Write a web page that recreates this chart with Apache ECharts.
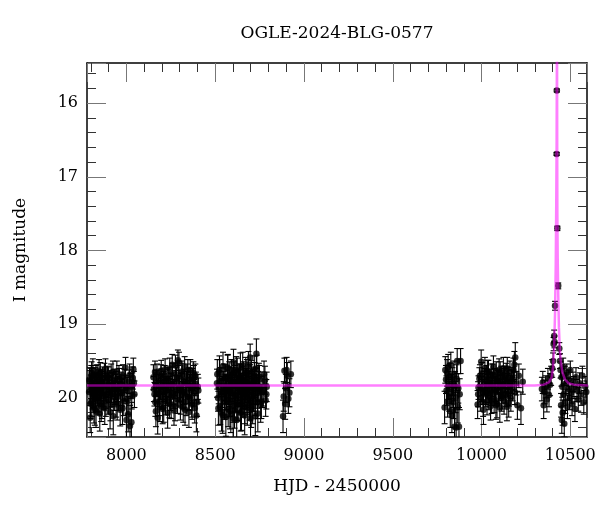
<!DOCTYPE html>
<html><head><meta charset="utf-8">
<script src="https://cdn.jsdelivr.net/npm/echarts@6/dist/echarts.min.js"></script>
<style>html,body{margin:0;padding:0;background:#fff}#c{width:600px;height:512px}</style>
</head><body><div id="c"></div>
<script>
// ---- Observations (HJD - 2450000, I mag, error) by season ----
const s1T = [7790,7793,7796,7799,7802,7805,7808,7811,7814,7817,7820,7823,7826,7829,7832,7835,7838,7841,7844,7847,7850,7853,7856,7859,7862,7866,7870,7874,7878,7882,7886,7890,7894,7898,7902,7906,7910,7914,7918,7922,7926,7930,7934,7938,7942,7946,7950,7955,7960,7965,7970,7975,7980,7985,7990,7995,8000,8005,8010,8015,8020,8025,8030,8036,8042];
const s1Mag = [19.92,19.78,20.27,19.85,19.70,20.05,19.88,19.62,19.95,20.12,19.81,19.74,19.99,20.18,19.86,19.69,19.93,20.03,19.77,19.84,20.21,19.66,19.90,19.80,20.08,19.73,19.97,19.87,20.14,19.61,19.83,19.95,19.72,20.02,19.89,19.79,20.10,19.68,19.94,19.82,20.25,19.76,19.91,19.85,20.06,19.64,19.88,19.98,19.75,20.16,19.81,19.93,19.70,20.04,19.86,19.59,20.30,19.90,20.22,19.78,20.38,19.84,19.96,19.73,19.80];
const s1Err = [0.18,0.15,0.20,0.16,0.14,0.20,0.17,0.15,0.18,0.22,0.16,0.15,0.19,0.22,0.17,0.14,0.18,0.20,0.15,0.16,0.24,0.14,0.18,0.16,0.20,0.15,0.19,0.17,0.22,0.14,0.16,0.19,0.15,0.20,0.17,0.16,0.21,0.14,0.18,0.16,0.25,0.15,0.18,0.17,0.20,0.14,0.17,0.19,0.15,0.22,0.16,0.18,0.15,0.20,0.17,0.14,0.26,0.18,0.24,0.16,0.28,0.17,0.19,0.15,0.16];
const s1bT = [7792,7798,7804,7810,7816,7822,7828,7834,7840,7846,7852,7858,7864,7868,7876,7884,7892,7900,7908,7916,7924,7932,7940,7948,7958,7968,7978,7988,7998,8008,8018,8028,8033,8039,8045];
const s1bMag = [19.75,20.08,19.66,19.96,19.84,20.15,19.71,19.90,20.00,19.63,19.86,20.11,19.78,19.94,19.68,20.05,19.82,19.73,20.19,19.88,19.65,19.98,19.80,20.09,19.71,19.92,20.14,19.77,19.87,20.02,19.69,20.33,19.83,19.61,19.95];
const s1bErr = [0.16,0.20,0.15,0.19,0.17,0.22,0.15,0.18,0.19,0.15,0.17,0.21,0.16,0.18,0.15,0.20,0.17,0.15,0.23,0.18,0.15,0.19,0.16,0.21,0.15,0.18,0.22,0.16,0.17,0.20,0.15,0.27,0.17,0.15,0.18];

const s2T = [8152,8158,8163,8168,8172,8176,8180,8184,8188,8192,8196,8200,8204,8208,8212,8216,8220,8224,8228,8232,8236,8240,8244,8248,8252,8256,8260,8264,8268,8272,8276,8280,8284,8288,8292,8296,8300,8304,8308,8312,8316,8320,8324,8328,8332,8336,8340,8344,8348,8352,8356,8360,8364,8368,8372,8377,8382,8388,8394,8402];
const s2Mag = [19.72,19.95,20.06,19.83,19.68,20.27,19.90,19.76,20.12,19.86,19.63,19.97,20.15,19.79,19.88,19.70,20.04,19.82,19.93,20.20,19.74,19.87,19.60,19.99,20.09,19.81,19.67,19.92,20.17,19.85,19.56,19.78,19.94,20.02,19.71,19.52,19.89,20.10,19.83,19.64,19.96,20.13,19.77,19.58,19.91,20.05,19.80,19.69,19.98,20.19,19.84,19.62,19.90,20.07,19.75,19.66,19.93,19.70,20.24,19.85];
const s2Err = [0.17,0.16,0.19,0.15,0.14,0.22,0.17,0.15,0.20,0.16,0.14,0.18,0.20,0.15,0.17,0.14,0.19,0.16,0.17,0.21,0.15,0.16,0.14,0.18,0.19,0.15,0.14,0.17,0.20,0.16,0.14,0.15,0.17,0.19,0.15,0.14,0.16,0.20,0.16,0.14,0.18,0.20,0.15,0.14,0.17,0.19,0.16,0.15,0.18,0.21,0.16,0.14,0.17,0.19,0.15,0.15,0.18,0.16,0.22,0.17];
const s2bT = [8155,8161,8166,8170,8178,8186,8194,8202,8210,8218,8226,8234,8242,8250,8258,8266,8274,8282,8290,8298,8306,8314,8322,8330,8338,8346,8354,8362,8370,8375,8380,8385,8391,8398,8405];
const s2bMag = [19.88,19.65,20.18,19.79,19.94,20.05,19.70,19.85,20.13,19.61,19.90,19.77,20.08,19.83,19.55,19.96,20.11,19.73,19.49,19.87,20.03,19.68,19.92,20.16,19.80,19.62,19.99,19.75,20.09,19.86,19.71,20.14,19.81,20.06,19.90];
const s2bErr = [0.17,0.15,0.21,0.16,0.18,0.19,0.15,0.17,0.20,0.14,0.17,0.16,0.19,0.16,0.14,0.18,0.20,0.15,0.14,0.17,0.19,0.15,0.17,0.21,0.16,0.14,0.18,0.15,0.20,0.17,0.15,0.20,0.16,0.19,0.17];

const s3T = [8512,8516,8520,8524,8528,8532,8536,8540,8544,8548,8552,8556,8560,8564,8567,8570,8573,8576,8579,8582,8585,8588,8591,8594,8597,8600,8603,8606,8609,8612,8615,8618,8621,8624,8627,8630,8633,8636,8639,8642,8645,8648,8651,8654,8657,8660,8663,8666,8669,8672,8675,8678,8681,8684,8687,8690,8693,8696,8699,8702,8705,8708,8711,8714,8717,8720,8724,8728,8732,8736,8740,8746,8752,8760,8770,8780,8788];
const s3Mag = [19.68,20.00,19.86,19.62,20.12,19.77,20.20,19.92,19.57,19.84,20.06,19.73,20.26,19.95,19.81,19.60,20.15,19.89,19.70,20.03,19.85,20.22,19.66,19.93,19.78,20.10,19.52,19.88,20.17,19.75,19.97,19.83,20.30,19.64,19.91,19.80,20.08,19.72,19.99,19.58,19.87,20.19,19.76,19.94,20.04,19.69,19.82,20.24,19.90,19.63,19.98,19.79,20.13,19.86,19.55,19.92,20.07,19.74,20.28,19.84,19.67,19.96,20.11,19.80,19.88,19.61,20.02,19.78,19.40,19.93,20.21,19.71,19.85,20.05,19.90,19.76,19.95];
const s3Err = [0.20,0.18,0.22,0.19,0.24,0.18,0.25,0.21,0.19,0.20,0.23,0.18,0.26,0.21,0.19,0.18,0.24,0.20,0.19,0.22,0.20,0.25,0.18,0.21,0.19,0.23,0.18,0.20,0.24,0.19,0.22,0.20,0.27,0.18,0.21,0.19,0.23,0.18,0.21,0.19,0.20,0.25,0.19,0.21,0.22,0.18,0.20,0.26,0.21,0.18,0.22,0.19,0.24,0.20,0.18,0.21,0.23,0.19,0.27,0.20,0.18,0.22,0.24,0.19,0.20,0.18,0.22,0.19,0.20,0.21,0.25,0.18,0.20,0.23,0.21,0.19,0.20];
const s3bT = [8510,8518,8526,8534,8542,8550,8558,8565,8571,8577,8583,8589,8595,8601,8607,8613,8619,8625,8631,8637,8643,8649,8655,8661,8667,8673,8679,8685,8691,8697,8703,8709,8715,8722,8726,8730,8734,8738,8743,8749,8756,8764,8775,8784,8790];
const s3bMag = [19.80,20.14,19.66,19.95,20.23,19.72,19.88,20.05,19.59,19.91,20.18,19.77,19.85,20.28,19.69,19.98,19.62,20.09,19.83,19.73,20.20,19.90,19.56,19.94,20.12,19.79,19.66,20.01,19.87,19.45,20.16,19.81,19.97,19.70,20.25,19.89,19.60,20.06,19.84,19.75,20.10,19.92,19.68,20.03,19.85];
const s3bErr = [0.19,0.23,0.18,0.21,0.25,0.18,0.20,0.22,0.18,0.21,0.24,0.19,0.20,0.27,0.18,0.21,0.18,0.22,0.20,0.19,0.25,0.21,0.18,0.21,0.23,0.19,0.18,0.22,0.20,0.18,0.24,0.20,0.21,0.18,0.26,0.20,0.18,0.22,0.20,0.19,0.23,0.21,0.18,0.22,0.20];

const s4T = [8882,8886,8890,8894,8898,8902,8906,8912,8918,8926];
const s4Mag = [20.25,19.98,19.63,20.08,19.87,19.62,19.70,20.01,19.93,19.68];
const s4Err = [0.22,0.20,0.17,0.21,0.19,0.17,0.18,0.20,0.19,0.18];

const s5T = [9792,9796,9800,9803,9806,9809,9812,9815,9818,9821,9824,9827,9830,9833,9836,9839,9842,9845,9848,9851,9854,9857,9860,9863,9866,9869,9873,9877,9882];
const s5Mag = [20.13,19.62,19.75,19.90,19.66,20.05,19.58,19.83,19.98,19.71,20.18,19.55,19.88,20.24,19.78,19.93,20.06,19.68,20.39,19.84,19.99,20.40,19.74,19.50,20.12,19.87,20.39,19.95,19.50];
const s5Err = [0.22,0.18,0.19,0.20,0.18,0.21,0.17,0.19,0.20,0.18,0.22,0.17,0.20,0.23,0.19,0.20,0.22,0.18,0.26,0.20,0.21,0.27,0.19,0.17,0.22,0.20,0.26,0.21,0.17];

const s6T = [9978,9983,9988,9993,9998,10003,10007,10011,10015,10019,10023,10027,10031,10035,10039,10043,10047,10051,10055,10059,10063,10067,10071,10075,10079,10083,10087,10091,10095,10099,10103,10107,10111,10115,10119,10123,10127,10131,10135,10139,10143,10147,10151,10155,10160,10165,10170,10175,10180,10185,10190,10196,10202,10210,10222,10232];
const s6Mag = [20.09,19.86,19.74,20.00,19.51,19.67,19.92,20.16,19.80,19.60,19.95,19.71,20.05,19.84,19.64,19.89,19.77,20.11,19.69,19.93,19.82,19.58,20.02,19.75,19.88,19.66,20.08,19.79,19.91,19.62,20.13,19.85,19.72,19.97,19.81,19.60,20.04,19.76,19.90,19.68,20.12,19.83,19.73,19.94,19.65,20.00,19.78,19.87,19.62,19.55,19.45,19.80,20.10,19.70,20.14,19.78];
const s6Err = [0.19,0.16,0.15,0.18,0.16,0.15,0.17,0.20,0.16,0.15,0.17,0.15,0.18,0.16,0.15,0.17,0.16,0.19,0.15,0.17,0.16,0.15,0.18,0.15,0.17,0.15,0.19,0.16,0.17,0.15,0.20,0.16,0.15,0.18,0.16,0.15,0.18,0.16,0.17,0.15,0.19,0.16,0.15,0.17,0.15,0.18,0.16,0.17,0.16,0.18,0.20,0.16,0.19,0.16,0.22,0.17];
const s6bT = [9981,9991,10001,10009,10017,10025,10033,10041,10049,10057,10065,10073,10081,10089,10097,10105,10113,10121,10129,10137,10145,10153,10162,10172,10187];
const s6bMag = [19.95,19.70,19.88,20.06,19.75,19.92,19.64,19.98,19.81,20.03,19.69,19.90,20.10,19.77,19.86,19.66,20.00,19.83,19.72,19.95,19.60,20.07,19.85,19.74,19.92];
const s6bErr = [0.17,0.15,0.17,0.19,0.15,0.17,0.15,0.18,0.16,0.18,0.15,0.17,0.19,0.16,0.17,0.15,0.18,0.16,0.15,0.17,0.15,0.19,0.16,0.15,0.17];

const s7T = [10340,10345,10350,10356,10362,10368,10374,10380,10386,10392,10398,10403,10406,10409,10411,10414,10423,10424,10427,10432,10438,10442,10445,10448,10450,10452,10455,10457,10460,10463,10466,10469,10472,10476,10480,10484,10488,10492,10496,10500,10505,10510,10515,10520,10526,10532,10538,10545,10552,10560,10568,10576,10584,10590];
const s7Mag = [19.88,19.79,20.10,19.92,19.85,20.02,19.74,19.96,19.82,19.70,19.60,19.50,19.27,19.16,19.24,18.75,16.69,15.83,17.70,18.48,19.33,19.50,19.62,20.10,19.72,20.30,19.85,20.20,19.58,19.95,20.35,19.70,20.05,19.80,19.66,20.12,19.88,19.75,20.00,19.62,19.93,20.08,19.78,19.86,20.15,19.72,19.90,20.02,19.80,19.95,19.70,20.06,19.85,19.92];
const s7Err = [0.16,0.15,0.18,0.16,0.15,0.17,0.14,0.16,0.15,0.13,0.12,0.11,0.09,0.08,0.08,0.06,0.02,0.02,0.03,0.04,0.08,0.10,0.11,0.16,0.12,0.18,0.14,0.17,0.12,0.15,0.18,0.13,0.16,0.14,0.12,0.16,0.15,0.13,0.16,0.12,0.14,0.16,0.13,0.15,0.17,0.13,0.15,0.16,0.14,0.15,0.13,0.16,0.14,0.15];

// ---- Model curve ----
const modelT   = [7778, 10300, 10350, 10380, 10395, 10403, 10409, 10414, 10418, 10421, 10423, 10424, 10424.6, 10425.3, 10426.2, 10427, 10429, 10432, 10436, 10440, 10446, 10455, 10470, 10490, 10520, 10600];
const modelMag = [19.833, 19.832, 19.82, 19.79, 19.72, 19.58, 19.30, 18.85, 18.20, 17.30, 16.50, 15.70, 14.80, 15.10, 16.60, 17.50, 18.10, 18.60, 19.05, 19.30, 19.50, 19.65, 19.75, 19.80, 19.82, 19.83];

// ---- Axis settings ----
const xMin = 7778, xMax = 10594;
const yMin = 15.457, yMax = 20.53;

const obsT = [].concat(s1T, s1bT, s2T, s2bT, s3T, s3bT, s4T, s5T, s6T, s6bT, s7T);
const obsMag = [].concat(s1Mag, s1bMag, s2Mag, s2bMag, s3Mag, s3bMag, s4Mag, s5Mag, s6Mag, s6bMag, s7Mag);
const obsErr = [].concat(s1Err, s1bErr, s2Err, s2bErr, s3Err, s3bErr, s4Err, s5Err, s6Err, s6bErr, s7Err);

const pts = obsT.map((t, i) => [t, obsMag[i], obsErr[i]]);
const model = modelT.map((t, i) => [t, modelMag[i]]);

const FONT = 'DejaVu Serif';
const tickCommon = {
  axisLine: { show: true, onZero: false, lineStyle: { color: '#000', width: 1.5 } },
  axisTick: { show: true, inside: true, length: 19, lineStyle: { color: '#777', width: 1 } },
  minorTick: { show: true, splitNumber: 5, length: 9, lineStyle: { color: '#333', width: 1 } },
  splitLine: { show: false },
  minorSplitLine: { show: false }
};
const plain = v => String(Math.round(v * 1000) / 1000);

const chart = echarts.init(document.getElementById('c'), null, { renderer: 'canvas' });
chart.setOption({
  animation: false,
  backgroundColor: '#fff',
  title: {
    text: 'OGLE-2024-BLG-0577', left: 337, top: 25, textAlign: 'center', padding: 0,
    textStyle: { fontFamily: FONT, fontSize: 17, fontWeight: 'normal', color: '#000' }
  },
  grid: { left: 87, right: 13, top: 63, bottom: 75 },
  xAxis: [
    Object.assign({
      type: 'value', min: xMin, max: xMax, splitNumber: 5, position: 'bottom',
      name: 'HJD - 2450000', nameLocation: 'middle', nameGap: 41,
      nameTextStyle: { fontFamily: FONT, fontSize: 17, color: '#000' },
      axisLabel: { show: true, margin: 11, showMinLabel: false, showMaxLabel: false, formatter: plain, fontFamily: FONT, fontSize: 16, color: '#000' }
    }, tickCommon),
    Object.assign({
      type: 'value', min: xMin, max: xMax, splitNumber: 5, position: 'top',
      axisLabel: { show: false }
    }, tickCommon)
  ],
  yAxis: [
    Object.assign({
      type: 'value', min: yMin, max: yMax, inverse: true, splitNumber: 5, position: 'left',
      name: 'I magnitude', nameLocation: 'middle', nameGap: 58, nameRotate: 90,
      nameTextStyle: { fontFamily: FONT, fontSize: 17, color: '#000' },
      axisLabel: { show: true, margin: 9, showMinLabel: false, showMaxLabel: false, formatter: plain, fontFamily: FONT, fontSize: 16, color: '#000' }
    }, tickCommon),
    Object.assign({
      type: 'value', min: yMin, max: yMax, inverse: true, splitNumber: 5, position: 'right',
      axisLabel: { show: false }
    }, tickCommon)
  ],
  series: [
    {
      type: 'custom', xAxisIndex: 0, yAxisIndex: 0, clip: true, z: 2,
      data: pts,
      encode: { x: 0, y: 1 },
      renderItem: function (params, api) {
        const x = api.value(0), y = api.value(1), e = api.value(2);
        const hi = api.coord([x, y - e]);
        const lo = api.coord([x, y + e]);
        const cw = 3;
        const st = { stroke: '#000', lineWidth: 1.1 };
        return {
          type: 'group',
          children: [
            { type: 'line', shape: { x1: hi[0], y1: hi[1], x2: lo[0], y2: lo[1] }, style: st },
            { type: 'line', shape: { x1: hi[0] - cw, y1: hi[1], x2: hi[0] + cw, y2: hi[1] }, style: st },
            { type: 'line', shape: { x1: lo[0] - cw, y1: lo[1], x2: lo[0] + cw, y2: lo[1] }, style: st }
          ]
        };
      }
    },
    {
      type: 'scatter', xAxisIndex: 0, yAxisIndex: 0, z: 3,
      data: pts.map(p => [p[0], p[1]]),
      symbol: 'circle', symbolSize: 6.5,
      itemStyle: { color: '#000' }
    },
    {
      type: 'line', xAxisIndex: 0, yAxisIndex: 0, z: 4, clip: true,
      data: model, showSymbol: false, symbol: 'none',
      lineStyle: { color: '#ff00ff', width: 2.5, opacity: 0.5 }
    }
  ]
});
</script>
</body></html>
